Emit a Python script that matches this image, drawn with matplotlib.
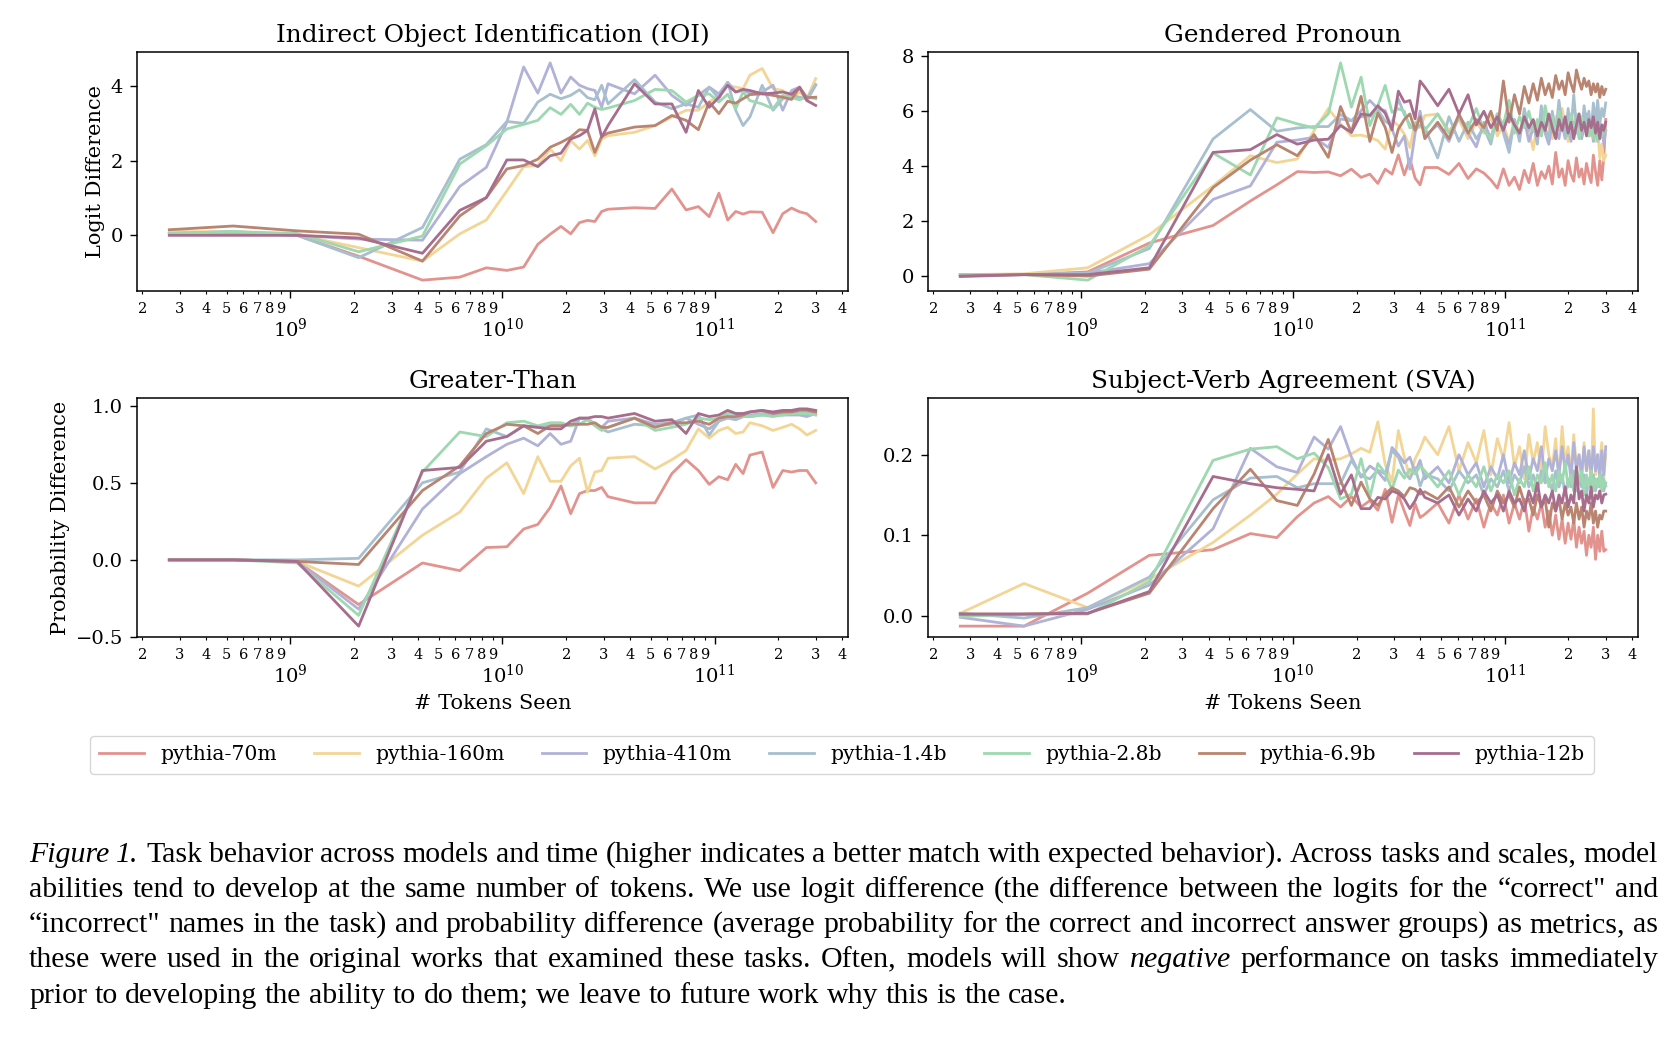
import numpy as np
import matplotlib.pyplot as plt
from matplotlib.ticker import FuncFormatter

plt.rcParams['font.family'] = 'DejaVu Serif'
plt.rcParams['mathtext.fontset'] = 'dejavuserif'

tokens_per_step = 2097152

models = ['pythia-70m', 'pythia-160m', 'pythia-410m', 'pythia-1.4b',
          'pythia-2.8b', 'pythia-6.9b', 'pythia-12b']
colors = ['#e3938e', '#f3d596', '#b1b2d8', '#a7bfcf', '#9dd8b0', '#b98470', '#a76d8d']

# checkpoint steps (thousands)
steps_sparse = [0.128, 0.256, 0.512, 1, 2, 3, 4, 5, 6, 7, 8, 9, 10, 11, 12, 13, 14, 15,
                20, 25, 30, 35, 40, 45, 50, 55, 60, 65, 70, 80, 90, 100, 110, 120, 130, 143]
steps_dense = [0.128, 0.256, 0.512, 1, 2, 3, 4, 5, 6, 7, 8, 9, 10, 11, 12, 13, 14, 15, 16, 17, 18, 19, 20,
               23, 26, 29, 32, 35, 38, 41, 44, 47, 50, 53, 56, 59, 62, 65, 68, 71, 74, 77, 80,
               83, 86, 89, 92, 95, 98, 101, 104, 107, 110, 113, 116, 119, 122, 125, 128, 131, 134, 137, 140, 143]

ioi = [
    [0.04, 0.08, 0.0, -0.56, -1.2, -1.12, -0.87, -0.94, -0.85, -0.24, 0.03, 0.24, 0.04, 0.34, 0.40, 0.37, 0.64, 0.70,
     0.74, 0.72, 1.24, 0.68, 0.77, 0.50, 1.13, 0.41, 0.64, 0.57, 0.63, 0.62, 0.07, 0.58, 0.73, 0.63, 0.58, 0.37],
    [0.1, 0.1, 0.02, -0.33, -0.69, 0.04, 0.41, 1.19, 1.84, 1.87, 2.31, 2.0, 2.54, 2.31, 2.54, 2.13, 2.58, 2.67,
     2.76, 2.94, 3.17, 3.35, 3.35, 3.57, 3.75, 4.02, 3.97, 3.93, 4.29, 4.47, 3.93, 3.88, 3.66, 3.84, 3.66, 4.2],
    [0.05, 0.05, 0.0, -0.1, -0.13, 1.31, 1.82, 3.03, 4.51, 3.81, 4.62, 3.81, 4.24, 4.02, 3.93, 3.88, 3.43, 4.06,
     3.79, 4.29, 3.75, 3.48, 3.75, 3.97, 3.79, 4.1, 3.84, 3.88, 3.81, 3.84, 4.02, 3.35, 3.88, 3.97, 3.61, 4.02],
    [0.05, 0.1, 0.0, -0.6, 0.21, 2.04, 2.43, 3.05, 3.0, 3.57, 3.78, 3.66, 3.75, 3.9, 3.69, 3.63, 4.02, 3.52,
     4.17, 3.57, 3.39, 3.52, 3.43, 3.97, 3.66, 4.1, 3.35, 2.94, 3.17, 4.02, 3.35, 3.66, 3.75, 3.7, 3.66, 4.04],
    [0.05, 0.1, 0.05, -0.44, -0.02, 1.91, 2.4, 2.85, 2.97, 3.08, 3.42, 3.24, 3.51, 3.24, 3.54, 3.43, 3.37, 3.41,
     3.61, 3.91, 3.88, 3.57, 3.75, 3.79, 3.57, 3.78, 3.39, 3.84, 3.61, 3.52, 3.39, 3.75, 3.69, 3.63, 3.72, 3.66],
    [0.15, 0.25, 0.12, 0.03, -0.69, 0.52, 1.01, 1.78, 1.87, 2.04, 2.36, 2.49, 2.63, 2.83, 2.81, 2.22, 2.65, 2.74,
     2.9, 2.94, 3.21, 3.08, 2.83, 3.57, 3.26, 3.59, 3.54, 3.66, 3.77, 3.79, 3.75, 3.70, 3.64, 3.97, 3.69, 3.70],
    [0.0, 0.0, 0.0, -0.07, -0.48, 0.67, 1.01, 2.02, 2.02, 1.84, 2.13, 2.2, 2.58, 2.67, 2.81, 3.39, 2.63, 2.94,
     4.06, 3.52, 3.52, 2.76, 3.88, 3.43, 3.7, 4.02, 3.84, 3.91, 3.88, 3.79, 3.81, 3.84, 3.78, 3.96, 3.61, 3.48],
]

gendered = [
    [0.05, 0.05, 0.15, 1.2, 1.84, 2.73, 3.32, 3.80, 3.77, 3.79, 3.65, 3.89, 3.59, 3.71, 3.37, 3.89, 3.71, 4.41, 3.68, 4.26, 3.56, 3.32, 3.95,
     3.95, 3.7, 4.1, 3.55, 3.9, 3.75, 3.5, 3.2, 3.9, 3.3, 3.6, 3.15, 3.85, 3.4, 4.1, 3.3, 3.8, 3.55, 4.0, 3.35,
     4.5, 3.6, 3.9, 3.3, 4.2, 3.7, 3.45, 4.3, 3.6, 3.9, 3.35, 4.1, 3.7, 3.4, 4.4, 3.8, 3.3, 4.2, 3.5, 4.3, 5.7],
    [0.05, 0.08, 0.3, 1.5, 3.28, 4.38, 4.13, 4.26, 5.29, 6.09, 5.54, 5.11, 5.13, 5.05, 4.93, 4.62, 5.66, 5.48, 5.17, 4.68, 5.6, 5.41, 5.84,
     5.9, 5.3, 5.7, 5.0, 5.6, 5.2, 5.8, 5.1, 5.5, 4.9, 5.7, 5.2, 5.9, 5.3, 4.6, 5.6, 5.1, 6.0, 5.4, 5.0,
     5.8, 5.3, 6.1, 5.5, 4.9, 5.7, 5.2, 5.9, 5.4, 5.0, 5.8, 5.3, 5.6, 5.1, 5.5, 4.9, 5.4, 4.3, 4.8, 4.2, 4.4],
    [0.05, 0.05, 0.1, 0.45, 2.79, 3.28, 4.87, 4.95, 5.05, 4.68, 5.72, 5.65, 6.02, 6.39, 6.09, 6.02, 5.35, 4.73, 5.1, 3.89, 5.2, 6.0, 5.1,
     5.5, 4.9, 5.8, 5.2, 4.7, 5.6, 5.0, 5.9, 5.3, 4.8, 5.5, 5.1, 5.7, 4.9, 5.4, 5.0, 5.8, 5.2, 4.8, 5.6,
     5.3, 5.0, 5.7, 5.1, 5.5, 4.9, 5.6, 5.2, 5.8, 5.0, 5.4, 5.9, 5.1, 5.6, 4.9, 5.3, 5.8, 5.0, 5.5, 4.8, 5.3],
    [0.05, 0.05, 0.1, 1.0, 4.99, 6.06, 5.27, 5.39, 5.44, 5.44, 5.88, 5.66, 5.8, 5.8, 6.05, 5.63, 5.48, 6.45, 5.88, 5.5, 5.3, 5.5, 5.4,
     4.3, 5.8, 4.9, 5.6, 5.0, 5.4, 4.8, 5.9, 5.2, 4.5, 5.7, 4.9, 6.1, 5.3, 5.6, 4.8, 6.2, 5.4, 5.0, 6.0,
     5.2, 6.4, 5.5, 5.0, 6.1, 5.3, 6.6, 5.4, 5.9, 5.1, 6.2, 5.5, 6.0, 5.2, 6.3, 5.6, 6.4, 5.5, 6.1, 5.8, 6.3],
    [0.05, 0.05, -0.15, 1.1, 4.48, 3.68, 5.76, 5.54, 5.39, 5.9, 7.76, 6.15, 7.24, 5.48, 6.2, 6.94, 5.96, 6.09, 6.0, 5.39, 5.55, 5.7, 5.3,
     5.9, 5.2, 5.8, 5.4, 6.1, 5.3, 5.0, 5.9, 5.5, 6.4, 5.2, 5.8, 5.4, 6.0, 5.3, 5.7, 5.1, 6.2, 5.5, 5.8,
     5.2, 6.0, 5.4, 5.7, 5.1, 5.9, 5.4, 5.6, 5.0, 5.8, 5.3, 5.6, 5.1, 5.5, 5.0, 5.6, 4.9, 5.4, 5.1, 5.5, 5.3],
    [-0.02, 0.05, 0.0, 0.25, 3.22, 4.22, 4.78, 4.38, 5.15, 4.32, 6.17, 5.23, 6.54, 4.9, 5.93, 5.41, 4.5, 5.35, 5.7, 5.9, 5.3, 5.8, 5.0,
     5.6, 5.0, 5.9, 5.2, 5.7, 5.4, 6.0, 5.3, 7.1, 5.6, 6.6, 5.9, 6.9, 6.3, 7.0, 6.4, 7.2, 6.6, 7.0, 6.5,
     7.3, 6.8, 7.1, 6.6, 7.4, 7.0, 6.7, 7.5, 7.1, 6.8, 7.2, 6.9, 7.1, 6.6, 7.0, 6.7, 7.0, 6.5, 6.9, 6.6, 6.8],
    [0.0, 0.05, 0.05, 0.3, 4.5, 4.6, 5.15, 4.8, 4.95, 4.98, 5.48, 5.23, 5.9, 5.85, 6.2, 5.93, 5.32, 6.73, 6.33, 6.39, 5.72, 7.1, 6.88,
     6.2, 6.8, 5.9, 6.6, 5.5, 6.0, 5.4, 5.8, 5.3, 5.9, 5.5, 5.2, 5.8, 5.4, 5.7, 5.1, 5.6, 5.3, 5.9, 5.4,
     5.0, 5.7, 5.3, 5.8, 5.2, 5.6, 5.0, 5.5, 5.9, 5.3, 5.6, 5.1, 5.7, 5.4, 5.8, 5.2, 5.6, 5.0, 5.5, 5.3, 5.6],
]

greater_than = [
    [0.0, 0.0, -0.01, -0.29, -0.02, -0.07, 0.08, 0.085, 0.2, 0.23, 0.34, 0.48, 0.30, 0.43, 0.45, 0.45, 0.47, 0.41,
     0.37, 0.37, 0.56, 0.65, 0.58, 0.49, 0.54, 0.52, 0.62, 0.56, 0.68, 0.70, 0.47, 0.58, 0.57, 0.58, 0.58, 0.50],
    [0.0, 0.0, -0.01, -0.17, 0.16, 0.31, 0.53, 0.63, 0.43, 0.67, 0.51, 0.51, 0.61, 0.66, 0.44, 0.57, 0.58, 0.66,
     0.67, 0.59, 0.65, 0.71, 0.85, 0.79, 0.84, 0.86, 0.82, 0.83, 0.89, 0.87, 0.84, 0.86, 0.88, 0.85, 0.81, 0.84],
    [0.0, 0.0, -0.01, -0.32, 0.33, 0.56, 0.67, 0.75, 0.79, 0.74, 0.82, 0.75, 0.77, 0.92, 0.91, 0.88, 0.86, 0.90,
     0.92, 0.88, 0.89, 0.92, 0.88, 0.85, 0.90, 0.92, 0.91, 0.93, 0.93, 0.94, 0.94, 0.94, 0.94, 0.94, 0.93, 0.95],
    [0.0, 0.0, 0.0, 0.01, 0.50, 0.57, 0.85, 0.80, 0.87, 0.86, 0.87, 0.88, 0.87, 0.92, 0.92, 0.88, 0.85, 0.83,
     0.88, 0.87, 0.88, 0.92, 0.94, 0.81, 0.90, 0.93, 0.91, 0.93, 0.94, 0.95, 0.95, 0.95, 0.95, 0.95, 0.95, 0.95],
    [0.0, 0.0, -0.02, -0.36, 0.57, 0.83, 0.80, 0.89, 0.90, 0.87, 0.89, 0.89, 0.87, 0.88, 0.91, 0.87, 0.84, 0.86,
     0.92, 0.84, 0.86, 0.88, 0.92, 0.91, 0.92, 0.95, 0.95, 0.93, 0.93, 0.94, 0.93, 0.94, 0.95, 0.95, 0.95, 0.94],
    [0.0, 0.0, -0.01, -0.03, 0.45, 0.61, 0.82, 0.88, 0.87, 0.82, 0.87, 0.87, 0.88, 0.88, 0.88, 0.89, 0.86, 0.86,
     0.92, 0.86, 0.89, 0.89, 0.90, 0.88, 0.92, 0.93, 0.93, 0.94, 0.96, 0.97, 0.95, 0.96, 0.96, 0.97, 0.97, 0.96],
    [0.0, 0.0, -0.01, -0.43, 0.58, 0.60, 0.77, 0.80, 0.87, 0.86, 0.85, 0.85, 0.90, 0.92, 0.92, 0.93, 0.93, 0.92,
     0.95, 0.90, 0.91, 0.82, 0.95, 0.93, 0.94, 0.97, 0.95, 0.95, 0.96, 0.97, 0.96, 0.97, 0.97, 0.98, 0.98, 0.97],
]

sva = [
    [-0.013, -0.013, 0.028, 0.075, 0.082, 0.102, 0.097, 0.123, 0.14, 0.148, 0.135, 0.148, 0.135, 0.143, 0.131, 0.157, 0.116, 0.15, 0.13, 0.112, 0.139, 0.122, 0.126,
     0.14, 0.115, 0.15, 0.12, 0.145, 0.11, 0.14, 0.125, 0.15, 0.115, 0.14, 0.12, 0.145, 0.105, 0.135, 0.12, 0.14, 0.11, 0.13, 0.1,
     0.125, 0.095, 0.12, 0.09, 0.115, 0.095, 0.12, 0.085, 0.11, 0.09, 0.105, 0.075, 0.1, 0.085, 0.11, 0.07, 0.1, 0.08, 0.105, 0.08, 0.082],
    [0.003, 0.04, 0.01, 0.045, 0.091, 0.125, 0.151, 0.176, 0.195, 0.193, 0.195, 0.201, 0.208, 0.203, 0.241, 0.188, 0.166, 0.23, 0.197, 0.172, 0.195, 0.207, 0.222,
     0.2, 0.235, 0.18, 0.215, 0.19, 0.23, 0.175, 0.22, 0.195, 0.24, 0.185, 0.21, 0.17, 0.225, 0.19, 0.215, 0.175, 0.235, 0.2, 0.185,
     0.22, 0.17, 0.235, 0.19, 0.21, 0.175, 0.225, 0.185, 0.2, 0.165, 0.215, 0.18, 0.205, 0.16, 0.257, 0.175, 0.2, 0.19, 0.215, 0.17, 0.2],
    [-0.002, -0.013, 0.008, 0.038, 0.108, 0.208, 0.185, 0.178, 0.222, 0.207, 0.235, 0.197, 0.172, 0.186, 0.179, 0.168, 0.209, 0.2, 0.19, 0.197, 0.178, 0.193, 0.17,
     0.185, 0.165, 0.2, 0.175, 0.19, 0.16, 0.185, 0.17, 0.2, 0.165, 0.19, 0.175, 0.205, 0.17, 0.195, 0.18, 0.21, 0.17, 0.195, 0.18,
     0.205, 0.175, 0.21, 0.18, 0.2, 0.17, 0.215, 0.18, 0.2, 0.175, 0.21, 0.18, 0.205, 0.175, 0.21, 0.18, 0.2, 0.17, 0.205, 0.175, 0.21],
    [0.003, -0.003, 0.01, 0.048, 0.144, 0.171, 0.173, 0.159, 0.164, 0.164, 0.164, 0.193, 0.174, 0.17, 0.181, 0.176, 0.205, 0.197, 0.178, 0.17, 0.184, 0.161, 0.176,
     0.17, 0.155, 0.18, 0.165, 0.175, 0.15, 0.17, 0.16, 0.18, 0.155, 0.175, 0.165, 0.185, 0.16, 0.175, 0.155, 0.18, 0.165, 0.17, 0.155,
     0.18, 0.16, 0.175, 0.15, 0.17, 0.16, 0.18, 0.155, 0.17, 0.16, 0.175, 0.15, 0.17, 0.16, 0.175, 0.155, 0.17, 0.16, 0.175, 0.155, 0.165],
    [-0.001, 0.002, 0.002, 0.042, 0.193, 0.207, 0.21, 0.195, 0.202, 0.184, 0.145, 0.151, 0.195, 0.147, 0.189, 0.177, 0.157, 0.181, 0.171, 0.182, 0.176, 0.186, 0.18,
     0.16, 0.18, 0.15, 0.175, 0.16, 0.185, 0.155, 0.175, 0.165, 0.18, 0.15, 0.17, 0.16, 0.185, 0.155, 0.175, 0.165, 0.19, 0.16, 0.175,
     0.155, 0.18, 0.165, 0.19, 0.16, 0.175, 0.155, 0.185, 0.165, 0.18, 0.15, 0.175, 0.16, 0.18, 0.155, 0.17, 0.16, 0.175, 0.155, 0.17, 0.161],
    [0.002, 0.002, 0.003, 0.028, 0.133, 0.182, 0.143, 0.137, 0.176, 0.219, 0.168, 0.137, 0.166, 0.145, 0.137, 0.151, 0.159, 0.155, 0.148, 0.159, 0.157, 0.151, 0.154,
     0.145, 0.16, 0.135, 0.155, 0.14, 0.15, 0.13, 0.155, 0.14, 0.15, 0.135, 0.16, 0.14, 0.145, 0.125, 0.15, 0.135, 0.145, 0.11, 0.14,
     0.13, 0.145, 0.12, 0.14, 0.125, 0.135, 0.115, 0.14, 0.12, 0.135, 0.11, 0.13, 0.12, 0.14, 0.115, 0.13, 0.11, 0.125, 0.12, 0.13, 0.13],
    [0.002, 0.002, 0.003, 0.03, 0.173, 0.164, 0.159, 0.157, 0.155, 0.2, 0.151, 0.175, 0.133, 0.133, 0.147, 0.145, 0.155, 0.152, 0.145, 0.133, 0.143, 0.157, 0.147,
     0.14, 0.15, 0.125, 0.145, 0.13, 0.155, 0.14, 0.15, 0.13, 0.155, 0.14, 0.145, 0.13, 0.155, 0.14, 0.165, 0.135, 0.15, 0.14, 0.155,
     0.13, 0.15, 0.14, 0.16, 0.135, 0.15, 0.14, 0.185, 0.145, 0.155, 0.13, 0.15, 0.14, 0.16, 0.135, 0.15, 0.145, 0.155, 0.14, 0.15, 0.151],
]

panels = [
    ('Indirect Object Identification (IOI)', steps_sparse, ioi, 'Logit Difference', [0, 2, 4]),
    ('Gendered Pronoun', steps_dense, gendered, None, [0, 2, 4, 6, 8]),
    ('Greater-Than', steps_sparse, greater_than, 'Probability Difference', [-0.5, 0.0, 0.5, 1.0]),
    ('Subject-Verb Agreement (SVA)', steps_dense, sva, None, [0.0, 0.1, 0.2]),
]

W, H = 1676, 1038
fig = plt.figure(figsize=(W / 100, H / 100), dpi=100)

# axes boxes in pixels: left, top, right, bottom
boxes = [(137, 52, 848, 291), (928, 52, 1638, 291),
         (137, 398, 848, 637), (928, 398, 1638, 637)]


def minor_label(v, pos):
    d = v / 10 ** np.floor(np.log10(v) + 1e-9)
    return '%d' % round(d)


for i, (title, steps, series, ylab, yt) in enumerate(panels):
    l, t, r, b = boxes[i]
    ax = fig.add_axes([l / W, 1 - b / H, (r - l) / W, (b - t) / H])
    x = np.array(steps) * 1000 * tokens_per_step
    for name, c, y in zip(models, colors, series):
        n = min(len(x), len(y))
        ax.plot(x[:n], y[:n], color=c, lw=2.0, label=name)
    ax.set_xscale('log')
    ax.set_yticks(yt)
    ax.xaxis.set_minor_formatter(FuncFormatter(minor_label))
    ax.tick_params(axis='x', which='major', length=5, width=1, pad=14, labelsize=14)
    ax.tick_params(axis='x', which='minor', length=2.5, width=0.8, pad=5.5, labelsize=10.5)
    ax.tick_params(axis='y', which='major', length=5, width=1, pad=5, labelsize=14)
    for s in ax.spines.values():
        s.set_linewidth(1.1)
    ax.set_title(title, fontsize=17.8, pad=7)
    if ylab:
        ax.set_ylabel(ylab, fontsize=15)
    if i >= 2:
        ax.set_xlabel('# Tokens Seen', fontsize=15, labelpad=5)

handles, labels = fig.axes[0].get_legend_handles_labels()
fig.legend(handles, labels, loc='center', bbox_to_anchor=(842 / W, 1 - 755 / H), ncol=7,
           fontsize=14.6, handlelength=2.2, handletextpad=0.8, columnspacing=1.85,
           borderpad=0.45, fancybox=True, edgecolor='#cccccc')

# caption, justified word by word
cap_lines = [
    'Figure 1. Task behavior across models and time (higher indicates a better match with expected behavior). Across tasks and scales, model',
    'abilities tend to develop at the same number of tokens. We use logit difference (the difference between the logits for the \u201ccorrect" and',
    '\u201cincorrect" names in the task) and probability difference (average probability for the correct and incorrect answer groups) as metrics, as',
    'these were used in the original works that examined these tasks. Often, models will show negative performance on tasks immediately',
    'prior to developing the ability to do them; we leave to future work why this is the case.',
]
italic_words = {(0, 0), (0, 1), (3, 15)}
cap_fs = 21.5
cap_left, cap_right = 29, 1658
cap_base = [862, 897, 932, 967, 1003]

renderer = fig.canvas.get_renderer()


def text_width(s, style):
    tt = fig.text(0, 0, s, fontsize=cap_fs, family='Liberation Serif', style=style)
    w = tt.get_window_extent(renderer).width
    tt.remove()
    return w


space_w = text_width('a a', 'normal') - text_width('aa', 'normal')
for li, line in enumerate(cap_lines):
    words = line.split(' ')
    styles = ['italic' if (li, wi) in italic_words else 'normal' for wi in range(len(words))]
    widths = [text_width(w, s) for w, s in zip(words, styles)]
    if li < len(cap_lines) - 1:
        gap = (cap_right - cap_left - sum(widths)) / (len(words) - 1)
    else:
        gap = space_w
    xpos = cap_left
    for w, s, wd in zip(words, styles, widths):
        fig.text(xpos / W, 1 - cap_base[li] / H, w, fontsize=cap_fs, family='Liberation Serif',
                 style=s, va='baseline', ha='left')
        xpos += wd + gap

fig.savefig('out.png', dpi=100)
